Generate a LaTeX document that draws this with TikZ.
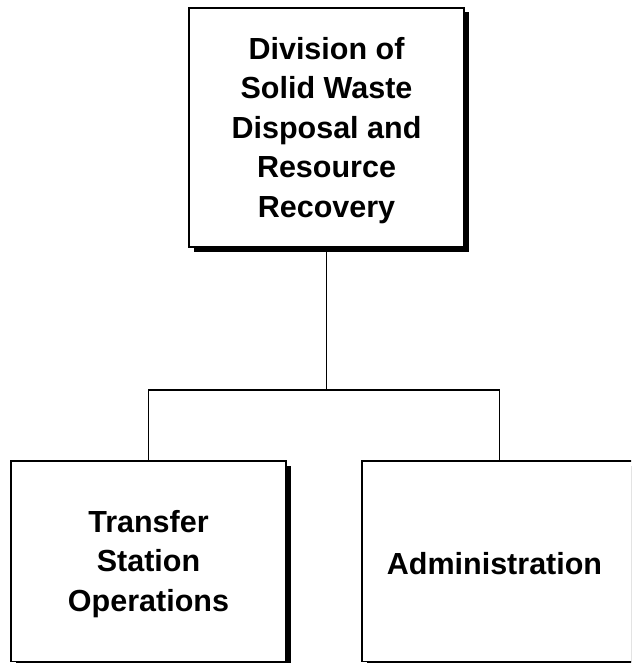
\documentclass[tikz,border=0pt]{standalone}
\usepackage{fontspec}
\setmainfont{Liberation Sans}
\usetikzlibrary{shadows}
\begin{document}
\begin{tikzpicture}[x=1pt,y=-1pt,
  orgbox/.style={draw=black, line width=1.4pt, fill=white, minimum width=275pt,
    inner sep=0pt,
    drop shadow={shadow xshift=4.5pt, shadow yshift=-4.5pt, fill=black, opacity=1}},
  orgtext/.style={inner sep=0pt, align=center,
    font=\fontsize{30.5pt}{39.5pt}\selectfont\bfseries},
  link/.style={draw=black, line width=1.5pt}]
\useasboundingbox (0,0) rectangle (631,663);
\clip (0,0) rectangle (631,663);
\node[orgbox, minimum height=239pt] (top) at (326.5,127.5) {};
\node[orgtext] (toptext) at (326.5,130.5)
  {Division of\\Solid Waste\\Disposal and\\Resource\\Recovery};
\node[orgbox, minimum height=200.5pt] (left) at (148.5,561.25) {};
\node[orgtext] (lefttext) at (148.5,564)
  {Transfer\\Station\\Operations};
\node[orgbox, minimum height=200.5pt] (right) at (499.5,561.25) {};
\node[orgtext] (righttext) at (494.5,564) {Administration};
\coordinate (j) at (326.5,390);
\draw[link] (top.south) -- (j);
\draw[link] (left.north) |- (j) -| (right.north);
\end{tikzpicture}
\end{document}
